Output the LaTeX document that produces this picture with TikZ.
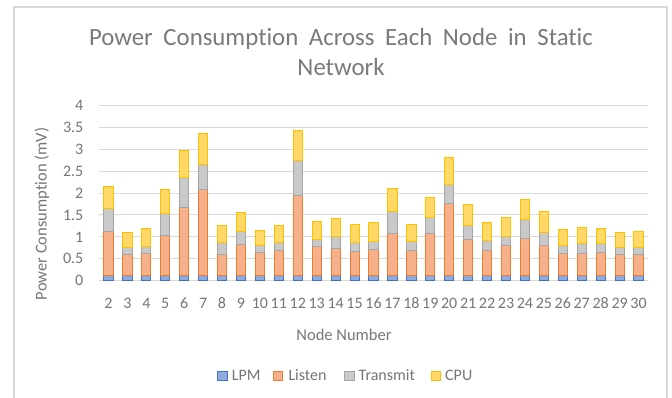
\documentclass[tikz,border=0pt]{standalone}
\usepackage{fontspec}
\setmainfont{Carlito}[Ligatures=NoCommon]
\newfontfamily\titlefont[WordSpace=1.9,Ligatures=NoCommon]{Carlito}
\definecolor{framec}{HTML}{D9D9D9}
\definecolor{gridc}{HTML}{D9D9D9}
\definecolor{txtc}{HTML}{767676}
\definecolor{titlec}{HTML}{7A7A7A}
\definecolor{lpmf}{HTML}{8FAADC}
\definecolor{lpmd}{HTML}{4472C4}
\definecolor{lisf}{HTML}{F6B08A}
\definecolor{lisd}{HTML}{ED7D31}
\definecolor{trf}{HTML}{C9C9C9}
\definecolor{trd}{HTML}{A5A5A5}
\definecolor{cpuf}{HTML}{FFD868}
\definecolor{cpud}{HTML}{FFC000}
\tikzset{
  ticklab/.style={text=txtc, font=\fontsize{16}{18}\selectfont, inner sep=0pt},
  axtitle/.style={text=txtc, font=\fontsize{16.5}{19}\selectfont, inner sep=0pt},
  legtext/.style={text=txtc, font=\fontsize{16}{18}\selectfont, inner sep=0pt, anchor=base west},
  titletext/.style={text=titlec, font=\titlefont\fontsize{24.8}{30}\selectfont, inner sep=0pt, anchor=base},
  seg/.style={line width=0.9pt},
  gridline/.style={draw=gridc, line width=1pt},
}
\begin{document}
\begin{tikzpicture}[x=1pt,y=-1pt]
\useasboundingbox (0,0) rectangle (672,397);
\fill[white] (0,0) rectangle (672,397);
% frame
\draw[framec, line width=1.3pt] (14,398) -- (14,7) -- (667,7) -- (667,398);
% title
\node[titletext] (title1) at (341,45) {Power Consumption Across Each Node in Static};
\node[titletext] (title2) at (341,75) {Network};
% gridlines and y ticks
\foreach \v [count=\k] in {0,0.5,1,1.5,2,2.5,3,3.5,4} {
  \draw[gridline] (99,{280.7-43.85*\v}) -- (648,{280.7-43.85*\v});
  \node[ticklab, anchor=base east] (yt\k) at (83.5,{280.7-43.85*\v+5.2}) {\v};
}
% bars
\foreach \n/\a/\b/\c [count=\i from 0] in {
  2/1.12/1.65/2.14, 3/0.60/0.76/1.11, 4/0.62/0.79/1.19, 5/1.04/1.54/2.08,
  6/1.67/2.36/2.98, 7/2.07/2.66/3.36, 8/0.61/0.87/1.27, 9/0.83/1.12/1.55,
  10/0.64/0.81/1.15, 11/0.68/0.87/1.27, 12/1.95/2.74/3.42, 13/0.79/0.95/1.35,
  14/0.73/1.00/1.41, 15/0.67/0.88/1.28, 16/0.71/0.90/1.32, 17/1.08/1.59/2.11,
  18/0.68/0.90/1.29, 19/1.08/1.44/1.89, 20/1.76/2.20/2.81, 21/0.95/1.27/1.73,
  22/0.68/0.92/1.32, 23/0.81/1.02/1.45, 24/0.97/1.40/1.86, 25/0.81/1.11/1.57,
  26/0.62/0.81/1.17, 27/0.62/0.84/1.22, 28/0.64/0.85/1.19, 29/0.61/0.75/1.10,
  30/0.60/0.75/1.12} {
  \pgfmathsetmacro{\xc}{99+18.931*(\i+0.5)}
  \draw[seg, fill=lpmf, draw=lpmd] ({\xc-4.6},280.7) rectangle ({\xc+4.6},{280.7-43.85*0.13});
  \draw[seg, fill=lisf, draw=lisd] ({\xc-4.6},{280.7-43.85*0.13}) rectangle ({\xc+4.6},{280.7-43.85*\a});
  \draw[seg, fill=trf, draw=trd] ({\xc-4.6},{280.7-43.85*\a}) rectangle ({\xc+4.6},{280.7-43.85*\b});
  \draw[seg, fill=cpuf, draw=cpud] ({\xc-4.6},{280.7-43.85*\b}) rectangle ({\xc+4.6},{280.7-43.85*\c});
  \node[ticklab, anchor=base] (xt\n) at (\xc,308) {\n};
}
% axis titles
\node[axtitle, rotate=90, anchor=base] (ytitle) at (46.5,214) {Power Consumption (mV)};
\node[axtitle, anchor=base] (xtitle) at (344,340.7) {Node Number};
% legend
\draw[seg, fill=lpmf, draw=lpmd] (217.5,371) rectangle (227,380.5);
\node[legtext] (lg1) at (231.7,380.7) {LPM};
\draw[seg, fill=lisf, draw=lisd] (273,371) rectangle (282.5,380.5);
\node[legtext] (lg2) at (288.3,380.7) {Listen};
\draw[seg, fill=trf, draw=trd] (344.5,371) rectangle (354,380.5);
\node[legtext] (lg3) at (358.5,380.7) {Transmit};
\draw[seg, fill=cpuf, draw=cpud] (431,371) rectangle (440.5,380.5);
\node[legtext] (lg4) at (445,380.7) {CPU};
\end{tikzpicture}
\end{document}
